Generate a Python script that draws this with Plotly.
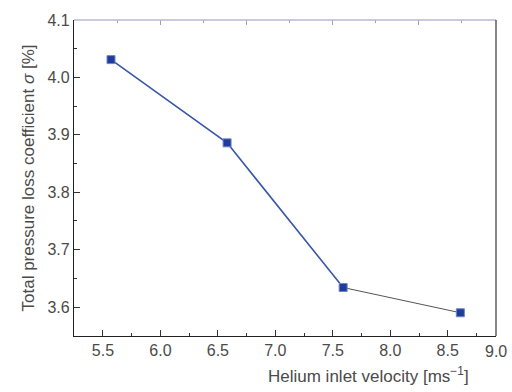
import plotly.graph_objects as go

velocity = [5.57, 6.58, 7.59, 8.61]
sigma = [4.031, 3.886, 3.634, 3.590]
x_ticks = [5.5, 6.0, 6.5, 7.0, 7.5, 8.0, 8.5]
y_ticks = [3.6, 3.7, 3.8, 3.9, 4.0, 4.1]

font_col = "#4a4a4a"
blue_line = "#3a56a8"
marker_col = "#1f3c9c"

fig = go.Figure()
fig.add_trace(go.Scatter(x=velocity[:3], y=sigma[:3], mode="lines",
                         line=dict(color=blue_line, width=1.6), showlegend=False))
fig.add_trace(go.Scatter(x=velocity[2:], y=sigma[2:], mode="lines",
                         line=dict(color="#555555", width=1), showlegend=False))
fig.add_trace(go.Scatter(x=velocity, y=sigma, mode="markers",
                         marker=dict(symbol="square", size=8, color=marker_col,
                                     line=dict(color="#6f86c8", width=1)),
                         showlegend=False))

fig.update_layout(
    width=512, height=392,
    margin=dict(l=74, r=16, t=17, b=56),
    paper_bgcolor="white", plot_bgcolor="white",
    font=dict(family="Liberation Sans, Arial, sans-serif", color=font_col, size=16),
    xaxis=dict(range=[5.248, 8.92], tickvals=x_ticks, ticktext=[f"{v:.1f}" for v in x_ticks],
               ticks="inside", ticklen=6, tickcolor="#333", tickwidth=1,
               minor=dict(dtick=0.25, tick0=5.25, ticks="inside", ticklen=3, tickcolor="#333"),
               showline=True, linecolor="#222", linewidth=1.3, showgrid=False, zeroline=False,
               tickfont=dict(size=16, color=font_col)),
    yaxis=dict(range=[3.5495, 4.1], tickvals=y_ticks, ticktext=[f"{v:.1f}" for v in y_ticks],
               ticks="inside", ticklen=6, tickcolor="#333", tickwidth=1,
               minor=dict(dtick=0.05, tick0=3.55, ticks="inside", ticklen=3, tickcolor="#333"),
               showline=True, linecolor="#222", linewidth=1.3, showgrid=False, zeroline=False,
               tickfont=dict(size=16, color=font_col),
               title=dict(text="Total pressure loss coefficient <i>σ</i> [%]", font=dict(size=17, color=font_col),
                          standoff=8)),
    xaxis2=dict(overlaying="x", side="top", range=[0, 9.79], showline=False,
                tickvals=[2, 4, 6, 8], ticks="inside", ticklen=5, tickcolor="#9aa0b8",
                minor=dict(dtick=1, tick0=0, ticks="inside", ticklen=3, tickcolor="#9aa0b8"),
                showticklabels=False, showgrid=False, zeroline=False),
    shapes=[
        dict(type="line", xref="paper", yref="paper", x0=0, x1=1, y0=1, y1=1,
             line=dict(color="#b4bad0", width=1.3)),
        dict(type="line", xref="paper", yref="paper", x0=1, x1=1, y0=0, y1=1,
             line=dict(color="#444", width=1.3)),
    ],
    annotations=[
        dict(text="9.0", xref="paper", yref="paper", x=1.0, y=0, yshift=-5,
             xanchor="center", yanchor="top", showarrow=False, font=dict(size=16, color=font_col)),
        dict(text="Helium inlet velocity [ms<sup>−1</sup>]", xref="paper", yref="paper",
             x=0.94, y=0, yshift=-26, xanchor="right", yanchor="top", showarrow=False,
             font=dict(size=17, color=font_col)),
    ],
)
fig.add_trace(go.Scatter(x=[None], y=[None], xaxis="x2", showlegend=False))

fig.write_html("out.html")
